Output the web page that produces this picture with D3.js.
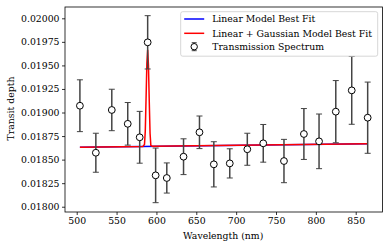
<script src="https://d3js.org/d3.v7.min.js"></script>
<style>
  body { margin: 0; background: #fff; }
  text { font-family: "DejaVu Serif", serif; }
</style>
<div id="chart"></div>
<script>
// measured transmission spectrum
var wavelengths = [504, 524, 544, 564, 579, 589, 599, 613, 634, 654, 672, 692, 714, 734, 760, 785, 804, 825, 845, 865];
var depths = [0.019072, 0.018573, 0.019027, 0.018880, 0.018737, 0.019745, 0.018333, 0.018305, 0.018531, 0.018790,
              0.018450, 0.018460, 0.018610, 0.018673, 0.018485, 0.018772, 0.018694, 0.019009, 0.019235, 0.018945];
var errors = [0.000275, 0.000207, 0.000220, 0.000226, 0.000275, 0.000283, 0.000290, 0.000160, 0.000190, 0.000173,
              0.000240, 0.000155, 0.000170, 0.000200, 0.000230, 0.000270, 0.000290, 0.000330, 0.000360, 0.000378];

// model curves
var linearX = [504, 865];
var linearY = [0.018630, 0.018669];
var gaussX = [504, 583, 585, 586, 587, 588, 589, 590, 591, 592, 593, 595, 865];
var gaussY = [0.018630, 0.018639, 0.018660, 0.018800, 0.019150, 0.019520, 0.019665, 0.019500, 0.019120, 0.018780, 0.018650, 0.018641, 0.018669];

var xTicks = [500, 550, 600, 650, 700, 750, 800, 850];
var yTicks = [0.018, 0.01825, 0.0185, 0.01875, 0.019, 0.01925, 0.0195, 0.01975, 0.02];

var W = 389, H = 248;
var margin = {top: 7, right: 6.5, bottom: 36, left: 65};
var width = W - margin.left - margin.right,
    height = H - margin.top - margin.bottom;

var svg = d3.select("#chart").append("svg")
    .attr("width", W).attr("height", H)
  .append("g")
    .attr("transform", "translate(" + margin.left + "," + margin.top + ")");

var x = d3.scaleLinear().domain([485.3, 883.6]).range([0, width]);
var y = d3.scaleLinear().domain([0.017944, 0.02012]).range([height, 0]);

var fs = "9.3px";

// axes
var xAxis = svg.append("g")
    .attr("transform", "translate(0," + height + ")")
    .call(d3.axisBottom(x).tickValues(xTicks).tickSize(3).tickPadding(2.5));
var yAxis = svg.append("g")
    .call(d3.axisLeft(y).tickValues(yTicks).tickSize(3).tickPadding(2.5)
      .tickFormat(d3.format(".5f")));
[xAxis, yAxis].forEach(function(a) {
  a.select(".domain").remove();
  a.selectAll("text").style("font-size", fs).attr("fill", "#000");
  a.selectAll("line").attr("stroke", "#000").attr("stroke-width", 0.8);
});

// frame
svg.append("rect")
    .attr("width", width).attr("height", height)
    .attr("fill", "none").attr("stroke", "#000").attr("stroke-width", 0.8);

// axis labels
svg.append("text")
    .attr("x", 223.2 - margin.left).attr("y", height + 27)
    .attr("text-anchor", "middle").style("font-size", fs)
    .text("Wavelength (nm)");
svg.append("text")
    .attr("transform", "rotate(-90)")
    .attr("x", -height / 2 + 1).attr("y", -margin.left + 14)
    .attr("text-anchor", "middle").style("font-size", fs)
    .text("Transit depth");

var line = d3.line()
    .x(function(d) { return x(d[0]); })
    .y(function(d) { return y(d[1]); });

// linear model (blue) then linear + gaussian (red)
svg.append("path")
    .datum(d3.zip(linearX, linearY))
    .attr("d", line).attr("fill", "none")
    .attr("stroke", "blue").attr("stroke-width", 1.5);
svg.append("path")
    .datum(d3.zip(gaussX, gaussY))
    .attr("d", line).attr("fill", "none")
    .attr("stroke", "red").attr("stroke-width", 1.5);

// error bars
var pts = d3.range(wavelengths.length).map(function(i) {
  return {w: wavelengths[i], v: depths[i], e: errors[i]};
});
var eb = svg.append("g").selectAll("g").data(pts).enter().append("g")
    .attr("stroke", "#444").attr("stroke-width", 1.5);
eb.append("line")
    .attr("x1", function(d) { return x(d.w); }).attr("x2", function(d) { return x(d.w); })
    .attr("y1", function(d) { return y(d.v - d.e); }).attr("y2", function(d) { return y(d.v + d.e); });
eb.append("line")
    .attr("x1", function(d) { return x(d.w) - 3; }).attr("x2", function(d) { return x(d.w) + 3; })
    .attr("y1", function(d) { return y(d.v + d.e); }).attr("y2", function(d) { return y(d.v + d.e); })
    .attr("stroke-width", 1);
eb.append("line")
    .attr("x1", function(d) { return x(d.w) - 3; }).attr("x2", function(d) { return x(d.w) + 3; })
    .attr("y1", function(d) { return y(d.v - d.e); }).attr("y2", function(d) { return y(d.v - d.e); })
    .attr("stroke-width", 1);

svg.append("g").selectAll("circle").data(pts).enter().append("circle")
    .attr("cx", function(d) { return x(d.w); })
    .attr("cy", function(d) { return y(d.v); })
    .attr("r", 3.4)
    .attr("fill", "#fff").attr("stroke", "#000").attr("stroke-width", 1);

// legend
var lg = svg.append("g").attr("transform", "translate(" + (180.7 - margin.left) + "," + (11.7 - margin.top) + ")");
lg.append("rect")
    .attr("width", 197).attr("height", 44.5).attr("rx", 2)
    .attr("fill", "#fff").attr("fill-opacity", 0.8)
    .attr("stroke", "#ccc").attr("stroke-width", 0.8);
var items = ["Linear Model Best Fit", "Linear + Gaussian Model Best Fit", "Transmission Spectrum"];
var rows = [7.3, 21.6, 35];
lg.append("line").attr("x1", 3.5).attr("x2", 23.5).attr("y1", rows[0]).attr("y2", rows[0])
    .attr("stroke", "blue").attr("stroke-width", 1.5);
lg.append("line").attr("x1", 3.5).attr("x2", 23.5).attr("y1", rows[1]).attr("y2", rows[1])
    .attr("stroke", "red").attr("stroke-width", 1.5);
var m = lg.append("g").attr("stroke", "#444");
m.append("line").attr("x1", 13.5).attr("x2", 13.5).attr("y1", rows[2] - 4).attr("y2", rows[2] + 4).attr("stroke-width", 1.5);
m.append("line").attr("x1", 11).attr("x2", 16).attr("y1", rows[2] - 4).attr("y2", rows[2] - 4);
m.append("line").attr("x1", 11).attr("x2", 16).attr("y1", rows[2] + 4).attr("y2", rows[2] + 4);
lg.append("circle").attr("cx", 13.5).attr("cy", rows[2]).attr("r", 3.2)
    .attr("fill", "#fff").attr("stroke", "#000").attr("stroke-width", 1);
lg.selectAll("text.item").data(items).enter().append("text")
    .attr("class", "item")
    .attr("x", 31.5).attr("y", function(d, i) { return rows[i]; })
    .attr("dy", "0.35em").style("font-size", fs)
    .text(function(d) { return d; });
</script>
